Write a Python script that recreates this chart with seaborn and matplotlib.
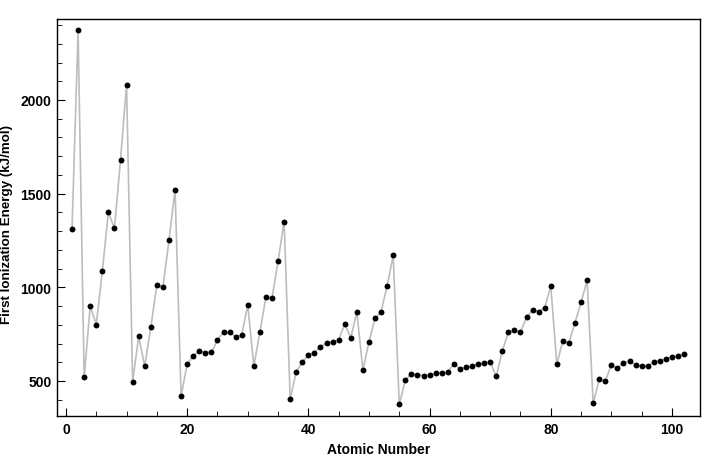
import matplotlib
matplotlib.use("Agg")
import matplotlib.pyplot as plt
import seaborn as sns
import pandas as pd
from matplotlib.ticker import MultipleLocator

atomic_number = list(range(1, 103))
ionization_energy = [
    1312, 2372, 520, 900, 801, 1086, 1402, 1314, 1681, 2081,
    496, 738, 578, 787, 1012, 1000, 1251, 1521, 419, 590,
    633, 659, 651, 653, 717, 763, 760, 737, 745, 906,
    579, 762, 947, 941, 1140, 1351, 403, 550, 600, 640,
    652, 684, 702, 710, 720, 804, 731, 868, 558, 709,
    834, 869, 1008, 1170, 376, 503, 538, 534, 527, 533,
    540, 545, 547, 593, 566, 573, 581, 589, 597, 603,
    524, 659, 761, 770, 760, 840, 880, 870, 890, 1007,
    589, 716, 703, 812, 920, 1037, 380, 509, 499, 587,
    568, 598, 605, 585, 578, 581, 601, 608, 619, 627,
    635, 642,
]

df = pd.DataFrame({"Z": atomic_number, "IE": ionization_energy})

sns.set_style("white")
plt.rcParams["font.family"] = ["Liberation Sans", "DejaVu Sans"]
plt.rcParams["font.weight"] = "bold"
plt.rcParams["text.color"] = "black"
plt.rcParams["axes.labelcolor"] = "black"

fig = plt.figure(figsize=(7.2, 4.56), dpi=100)
ax = fig.add_axes([0.079, 0.0855, 0.893, 0.8705])

sns.lineplot(data=df, x="Z", y="IE", ax=ax, color="#bdbdbd", linewidth=1.2)
sns.scatterplot(data=df, x="Z", y="IE", ax=ax, color="black", s=18,
                edgecolor="black", linewidth=0, zorder=3)

ax.set_xlim(-1.5, 104.6)
ax.set_ylim(313, 2432)
ax.xaxis.set_major_locator(MultipleLocator(20))
ax.xaxis.set_minor_locator(MultipleLocator(5))
ax.yaxis.set_major_locator(MultipleLocator(500))
ax.yaxis.set_minor_locator(MultipleLocator(100))
ax.tick_params(which="both", direction="in", top=False, right=False,
               bottom=True, left=True, labelsize=10, colors="black",
               labelcolor="black")
ax.tick_params(which="major", length=6, width=0.8, pad=4)
ax.tick_params(which="minor", length=3.5, width=0.6)
for lab in ax.get_xticklabels() + ax.get_yticklabels():
    lab.set_fontweight("bold")
for sp in ax.spines.values():
    sp.set_color("black")
    sp.set_linewidth(1.0)

ax.set_xlabel("Atomic Number", fontsize=10, fontweight="bold", color="black")
ax.set_ylabel("First Ionization Energy (kJ/mol)", fontsize=9.6,
              fontweight="bold", color="black")
ax.xaxis.set_label_coords(0.5, -0.0655)
ax.yaxis.set_label_coords(-0.068, 0.486)

fig.savefig("out.png", dpi=100)
